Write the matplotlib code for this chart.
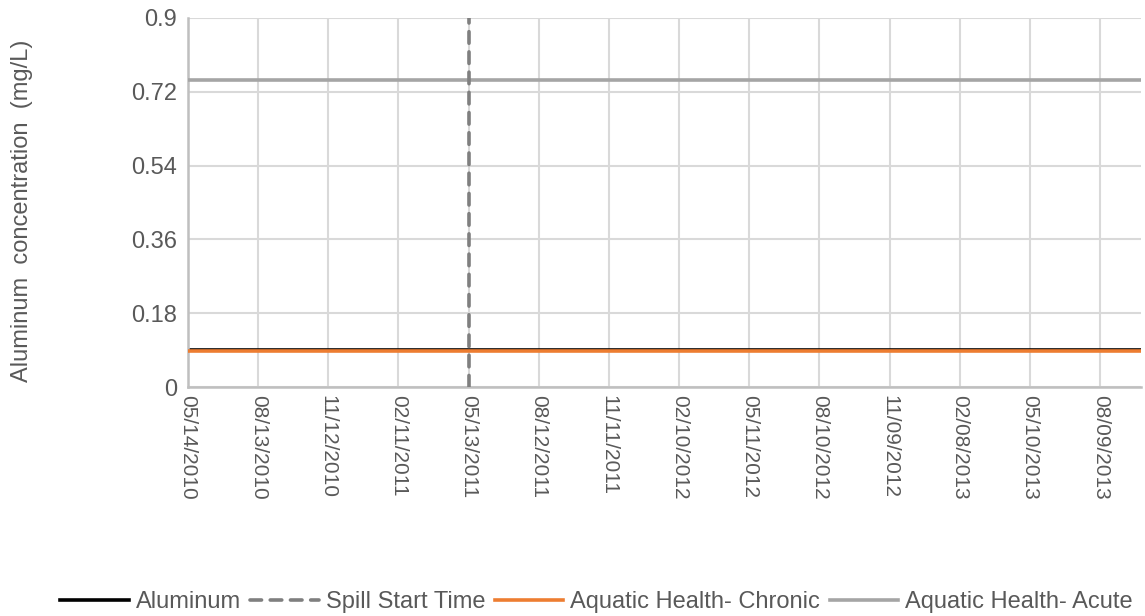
import matplotlib
matplotlib.use("Agg")
import matplotlib.pyplot as plt
import matplotlib.dates as mdates
import datetime as dt

# ---- data ----
tick_labels = ["05/14/2010", "08/13/2010", "11/12/2010", "02/11/2011", "05/13/2011",
               "08/12/2011", "11/11/2011", "02/10/2012", "05/11/2012", "08/10/2012",
               "11/09/2012", "02/08/2013", "05/10/2013", "08/09/2013"]
y_ticks = [0, 0.18, 0.36, 0.54, 0.72, 0.9]
y_tick_labels = ["0", "0.18", "0.36", "0.54", "0.72", "0.9"]

x_start = "05/14/2010"
x_end = "10/01/2013"

aluminum_dates = ["05/14/2010", "10/01/2013"]
aluminum_values = [0.09, 0.09]

spill_dates = ["05/13/2011", "05/13/2011"]
spill_values = [0, 0.9]

chronic_dates = ["05/14/2010", "10/01/2013"]
chronic_values = [0.087, 0.087]

acute_dates = ["05/14/2010", "10/01/2013"]
acute_values = [0.75, 0.75]


def to_dt(lst):
    return [dt.datetime.strptime(s, "%m/%d/%Y") for s in lst]


plt.rcParams['font.family'] = ['Liberation Sans', 'DejaVu Sans']
text_color = "#595959"

fig = plt.figure(figsize=(11.45, 6.16), dpi=100)
ax = fig.add_axes([188 / 1145, 1 - 387 / 616, (1141 - 188) / 1145, (387 - 18) / 616])

l1, = ax.plot(to_dt(aluminum_dates), aluminum_values, color="black", lw=2.6,
              label="Aluminum", zorder=2)
l2, = ax.plot(to_dt(spill_dates), spill_values, color="#7f7f7f", lw=2.6,
              linestyle=(0, (3.2, 2.4)), dash_capstyle="round",
              label="Spill Start Time", zorder=5)
l3, = ax.plot(to_dt(chronic_dates), chronic_values, color="#ed7d31", lw=2.6,
              label="Aquatic Health- Chronic", zorder=3)
l4, = ax.plot(to_dt(acute_dates), acute_values, color="#a5a5a5", lw=2.6,
              label="Aquatic Health- Acute", zorder=3)

xd = to_dt([x_start, x_end])
ax.set_xlim(mdates.date2num(xd[0]), mdates.date2num(xd[1]))
ax.set_ylim(0, 0.9)

tick_pos = mdates.date2num(to_dt(tick_labels))
ax.set_xticks(tick_pos)
ax.set_xticklabels(tick_labels, rotation=-90, ha="center", va="top",
                   fontsize=15, color=text_color)
ax.set_yticks(y_ticks)
ax.set_yticklabels(y_tick_labels, fontsize=17, color=text_color)
ax.tick_params(axis="x", length=0, pad=6)
ax.tick_params(axis="y", length=0, pad=8)

ax.grid(True, color="#d9d9d9", lw=1.5, zorder=0)
ax.set_axisbelow(True)
for s in ["top", "right"]:
    ax.spines[s].set_visible(False)
for s in ["left", "bottom"]:
    ax.spines[s].set_color("#bfbfbf")
    ax.spines[s].set_linewidth(1.8)

ax.set_ylabel("Aluminum  concentration  (mg/L)", fontsize=17, color=text_color)
ax.yaxis.set_label_coords((33 - 188) / 953, 0.477)

leg = fig.legend(handles=[l1, l2, l3, l4], loc="center", ncol=4,
                 bbox_to_anchor=(596.5 / 1145, 1 - 602 / 616), frameon=False,
                 fontsize=17, handlelength=2.9, handletextpad=0.3,
                 columnspacing=0.4, borderaxespad=0)
for t in leg.get_texts():
    t.set_color(text_color)

fig.savefig("out.png", dpi=100)
